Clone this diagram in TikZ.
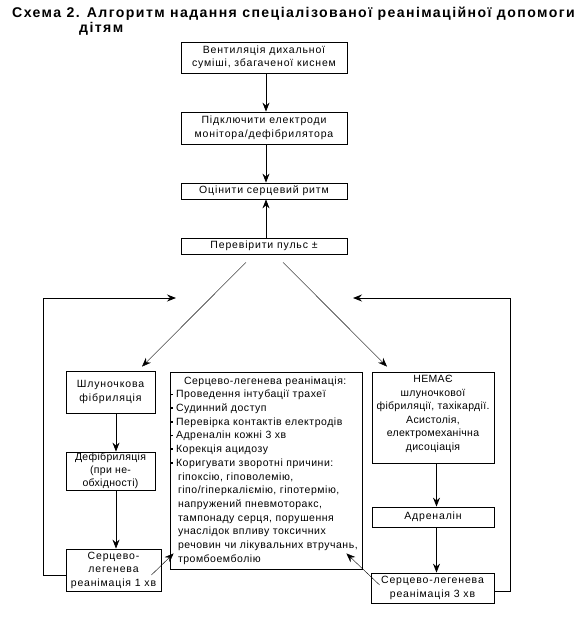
\documentclass[tikz,border=0pt]{standalone}
\usepackage{fontspec}
\setmainfont{Liberation Sans}
\newfontfamily\boxfont[LetterSpace=8]{Liberation Sans}
\newfontfamily\listfont[LetterSpace=5]{Liberation Sans}
\newfontfamily\tightfont[LetterSpace=3]{Liberation Sans}
\newfontfamily\titlefont[LetterSpace=10]{Liberation Sans Bold}
\usetikzlibrary{arrows.meta}

\newcommand{\bul}{\makebox[5pt][l]{\rule[2.5pt]{1.8pt}{1.8pt}}}

\begin{document}
\begin{tikzpicture}[x=1pt,y=-1pt,
  box/.style={draw, line width=0.8pt, inner sep=0pt, align=center,
    font=\boxfont\fontsize{10.5}{13.5}\selectfont},
  arr/.style={line width=0.8pt, -{Stealth[length=9pt,width=7pt,inset=3pt]}},
  diag/.style={line width=0.4pt, -{Stealth[length=9pt,width=7pt,inset=3pt]}}]

\useasboundingbox (0,0) rectangle (578,622);

% title
\node[anchor=base west, inner sep=0pt, font=\titlefont\fontsize{14.1}{15}\selectfont] (title1) at (12,17)
  {Схема 2. Алгоритм надання спеціалізованої реанімаційної допомоги};
\node[anchor=base west, inner sep=0pt, font=\titlefont\fontsize{14.1}{15}\selectfont] (title2) at (79,32)
  {дітям};

% top column
\node[box, minimum width=166pt, minimum height=31pt] (vent) at (264,57.5)
  {Вентиляція дихальної\\суміші, збагаченої киснем};
\node[box, minimum width=166pt, minimum height=32pt] (elect) at (264,128)
  {Підключити електроди\\монітора/дефібрилятора};
\node[box, minimum width=166pt, minimum height=16pt] (rytm) at (264,191)
  {Оцінити серцевий ритм};
\node[box, minimum width=166pt, minimum height=16pt] (puls) at (264,246)
  {Перевірити пульс ±};

% left column
\node[box, minimum width=89pt, minimum height=42pt] (fibr) at (110.5,392)
  {Шлуночкова\\фібриляція};
\node[box, minimum width=89pt, minimum height=38pt,
  font=\tightfont\fontsize{10.5}{12.8}\selectfont] (defib) at (110.5,471)
  {Дефібриляція\\(при не-\\обхідності)};
\node[box, minimum width=95pt, minimum height=42pt] (slr1) at (113.5,570)
  {Серцево-\\легенева\\реанімація 1 хв};

% middle
\node[box, align=left, text width=190pt, inner xsep=1pt, minimum height=197pt,
  font=\listfont\fontsize{10.5}{13.7}\selectfont] (slr) at (266,470.5)
  {\hspace*{13pt}Серцево-легенева реанімація:\\
   \bul Проведення інтубації трахеї\\
   \bul Судинний доступ\\
   \bul Перевірка контактів електродів\\
   \bul Адреналін кожні 3 хв\\
   \bul Корекція ацидозу\\
   \bul Коригувати зворотні причини:\\
   \hspace*{7pt}гіпоксію, гіповолемію,\\
   \hspace*{7pt}гіпо/гіперкаліємію, гіпотермію,\\
   \hspace*{7pt}напружений пневмоторакс,\\
   \hspace*{7pt}тампонаду серця, порушення\\
   \hspace*{7pt}унаслідок впливу токсичних\\
   \hspace*{7pt}речовин чи лікувальних втручань,\\
   \hspace*{7pt}тромбоемболію};

% right column
\node[box, minimum width=122pt, minimum height=91pt,
  font=\tightfont\fontsize{10.5}{13.5}\selectfont] (asys) at (433,417.5)
  {НЕМАЄ\\шлуночкової\\фібриляції, тахікардії.\\Асистолія,\\електромеханічна\\дисоціація\\[-4pt]\mbox{}};
\node[box, minimum width=122pt, minimum height=20pt] (adr) at (433,517)
  {Адреналін};
\node[box, minimum width=123pt, minimum height=30pt] (slr3) at (432.5,588)
  {Серцево-легенева\\реанімація 3 хв};

% loop ends
\coordinate (lc) at (43,298);
\coordinate (lt) at (176,298);
\coordinate (rc) at (510,298);
\coordinate (rt) at (353,298);

% arrows
\draw[arr] ([xshift=2pt]vent.south) -- ([xshift=2pt]elect.north);
\draw[arr] ([xshift=2pt]elect.south) -- ([xshift=2pt]rytm.north);
\draw[arr] ([xshift=2pt]puls.north) -- ([xshift=2pt]rytm.south);

\draw[diag] ([xshift=-18pt,yshift=-8pt]puls.south) -- ([xshift=31.5pt,yshift=4pt]fibr.north);
\draw[diag] ([xshift=19pt,yshift=-8pt]puls.south) -- ([xshift=-46pt,yshift=5pt]asys.north);

\draw[arr] ([xshift=5.5pt]fibr.south) -- ([xshift=5.5pt]defib.north);
\draw[arr] ([xshift=5.5pt]defib.south) -- ([xshift=5.5pt]defib.south |- slr1.north);
\draw[arr] ([xshift=3.5pt]asys.south) -- ([xshift=3.5pt]adr.north);
\draw[arr] ([xshift=3.5pt]adr.south) -- ([xshift=3.5pt]adr.south |- slr3.north);

\draw[diag] ([xshift=-10pt,yshift=-5pt]slr1.east) -- ([xshift=4pt,yshift=16pt]slr.south west);
\draw[diag] ([xshift=9pt,yshift=3pt]slr3.west) -- ([xshift=-16pt,yshift=16pt]slr.south east);

\draw[arr] ([yshift=-5pt]slr1.west) -| (lc) -- (lt);
\draw[arr] ([yshift=-3pt]slr3.east) -| (rc) -- (rt);

\end{tikzpicture}
\end{document}
